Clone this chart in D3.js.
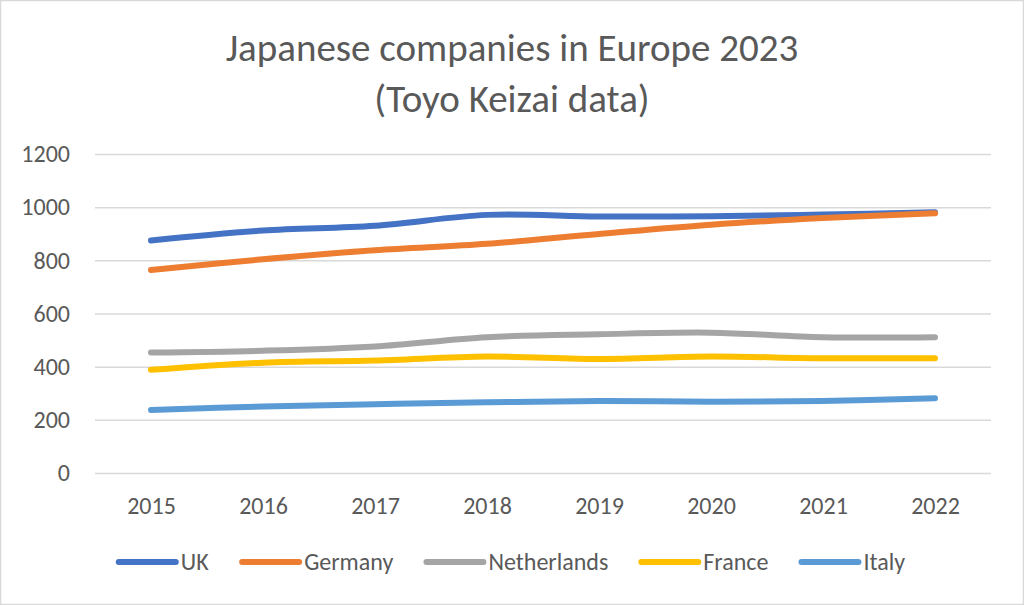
<!DOCTYPE html>
<html>
<head>
<meta charset="utf-8">
<script src="https://cdn.jsdelivr.net/npm/d3@7"></script>
<style>
  body { margin: 0; background: #fff; }
  svg { display: block; font-family: Calibri, Carlito, Lato, sans-serif; }
</style>
</head>
<body>
<div id="chart"></div>
<script>
// chart data
var years = ["2015", "2016", "2017", "2018", "2019", "2020", "2021", "2022"];
var countries = ["UK", "Germany", "Netherlands", "France", "Italy"];
var ukValues = [875, 912, 930, 971, 965, 966, 972, 981];
var germanyValues = [764, 804, 838, 862, 899, 934, 959, 977];
var netherlandsValues = [453, 460, 476, 511, 522, 528, 511, 511];
var franceValues = [388, 415, 423, 438, 429, 438, 432, 432];
var italyValues = [237, 250, 259, 266, 271, 268, 271, 281];
var yTicks = [0, 200, 400, 600, 800, 1000, 1200];
var colors = ["#4472C4", "#ED7D31", "#A5A5A5", "#FFC000", "#5B9BD5"];

var seriesValues = [ukValues, germanyValues, netherlandsValues, franceValues, italyValues];

var svgWidth = 1024;
var svgHeight = 605;

var margin = { top: 154, right: 33, bottom: 132, left: 95 };
var chartWidth = svgWidth - margin.left - margin.right;
var chartHeight = svgHeight - margin.top - margin.bottom;

var svg = d3.select("#chart")
  .append("svg")
  .attr("width", svgWidth)
  .attr("height", svgHeight);

// white background + light border
svg.append("rect")
  .attr("x", 0.5).attr("y", 0.5)
  .attr("width", svgWidth - 1).attr("height", svgHeight - 1)
  .attr("fill", "#fff")
  .attr("stroke", "#D9D9D9")
  .attr("stroke-width", 1.5);

// title
var title = svg.append("text")
  .attr("text-anchor", "middle")
  .attr("fill", "#595959")
  .style("font-size", "39px");
title.append("tspan").attr("x", svgWidth / 2).attr("y", 61).text("Japanese companies in Europe 2023");
title.append("tspan").attr("x", svgWidth / 2).attr("y", 112).text("(Toyo Keizai data)");

var chartGroup = svg.append("g")
  .attr("transform", `translate(${margin.left}, ${margin.top})`);

var xScale = d3.scalePoint()
  .domain(years)
  .range([0, chartWidth])
  .padding(0.5);

var yScale = d3.scaleLinear()
  .domain([0, 1200])
  .range([chartHeight, 0]);

// gridlines + y labels
var leftAxis = d3.axisLeft(yScale)
  .tickValues(yTicks)
  .tickFormat(d3.format("d"))
  .tickSize(-chartWidth)
  .tickPadding(25);

var yAxisGroup = chartGroup.append("g").call(leftAxis);
yAxisGroup.select(".domain").remove();
yAxisGroup.selectAll("line")
  .attr("stroke", "#D9D9D9")
  .attr("stroke-width", 1.5);
yAxisGroup.selectAll("text")
  .attr("fill", "#595959")
  .style("font-size", "24px")
  .style("font-family", "Calibri, Carlito, Lato, sans-serif");

// x labels
var bottomAxis = d3.axisBottom(xScale)
  .tickSize(0)
  .tickPadding(24);

var xAxisGroup = chartGroup.append("g")
  .attr("transform", `translate(0, ${chartHeight})`)
  .call(bottomAxis);
xAxisGroup.select(".domain").remove();
xAxisGroup.selectAll("text")
  .attr("fill", "#595959")
  .style("font-size", "24px")
  .style("font-family", "Calibri, Carlito, Lato, sans-serif");

// lines
var line = d3.line()
  .x((d, i) => xScale(years[i]))
  .y(d => yScale(d))
  .curve(d3.curveCatmullRom.alpha(0.5));

chartGroup.selectAll(".series")
  .data(seriesValues)
  .enter()
  .append("path")
  .attr("class", "series")
  .attr("d", d => line(d))
  .attr("fill", "none")
  .attr("stroke", (d, i) => colors[i])
  .attr("stroke-width", 6)
  .attr("stroke-linecap", "round")
  .attr("stroke-linejoin", "round");

// legend
var legendY = 562;
var legend = svg.append("g");
var items = legend.selectAll(".item")
  .data(countries)
  .enter()
  .append("g")
  .attr("class", "item");

items.append("line")
  .attr("x1", 0).attr("x2", 57)
  .attr("y1", 0).attr("y2", 0)
  .attr("stroke", (d, i) => colors[i])
  .attr("stroke-width", 6)
  .attr("stroke-linecap", "round");

items.append("text")
  .attr("x", 62)
  .attr("y", 0)
  .attr("dy", "0.35em")
  .attr("fill", "#595959")
  .style("font-size", "24px")
  .text(d => d);

var widths = [];
items.each(function() { widths.push(this.getBBox().width); });
var gap = 33;
var total = d3.sum(widths) + gap * (widths.length - 1);
var pos = svgWidth / 2 - total / 2;
items.attr("transform", function(d, i) {
  var t = `translate(${pos}, ${legendY})`;
  pos += widths[i] + gap;
  return t;
});
</script>
</body>
</html>
